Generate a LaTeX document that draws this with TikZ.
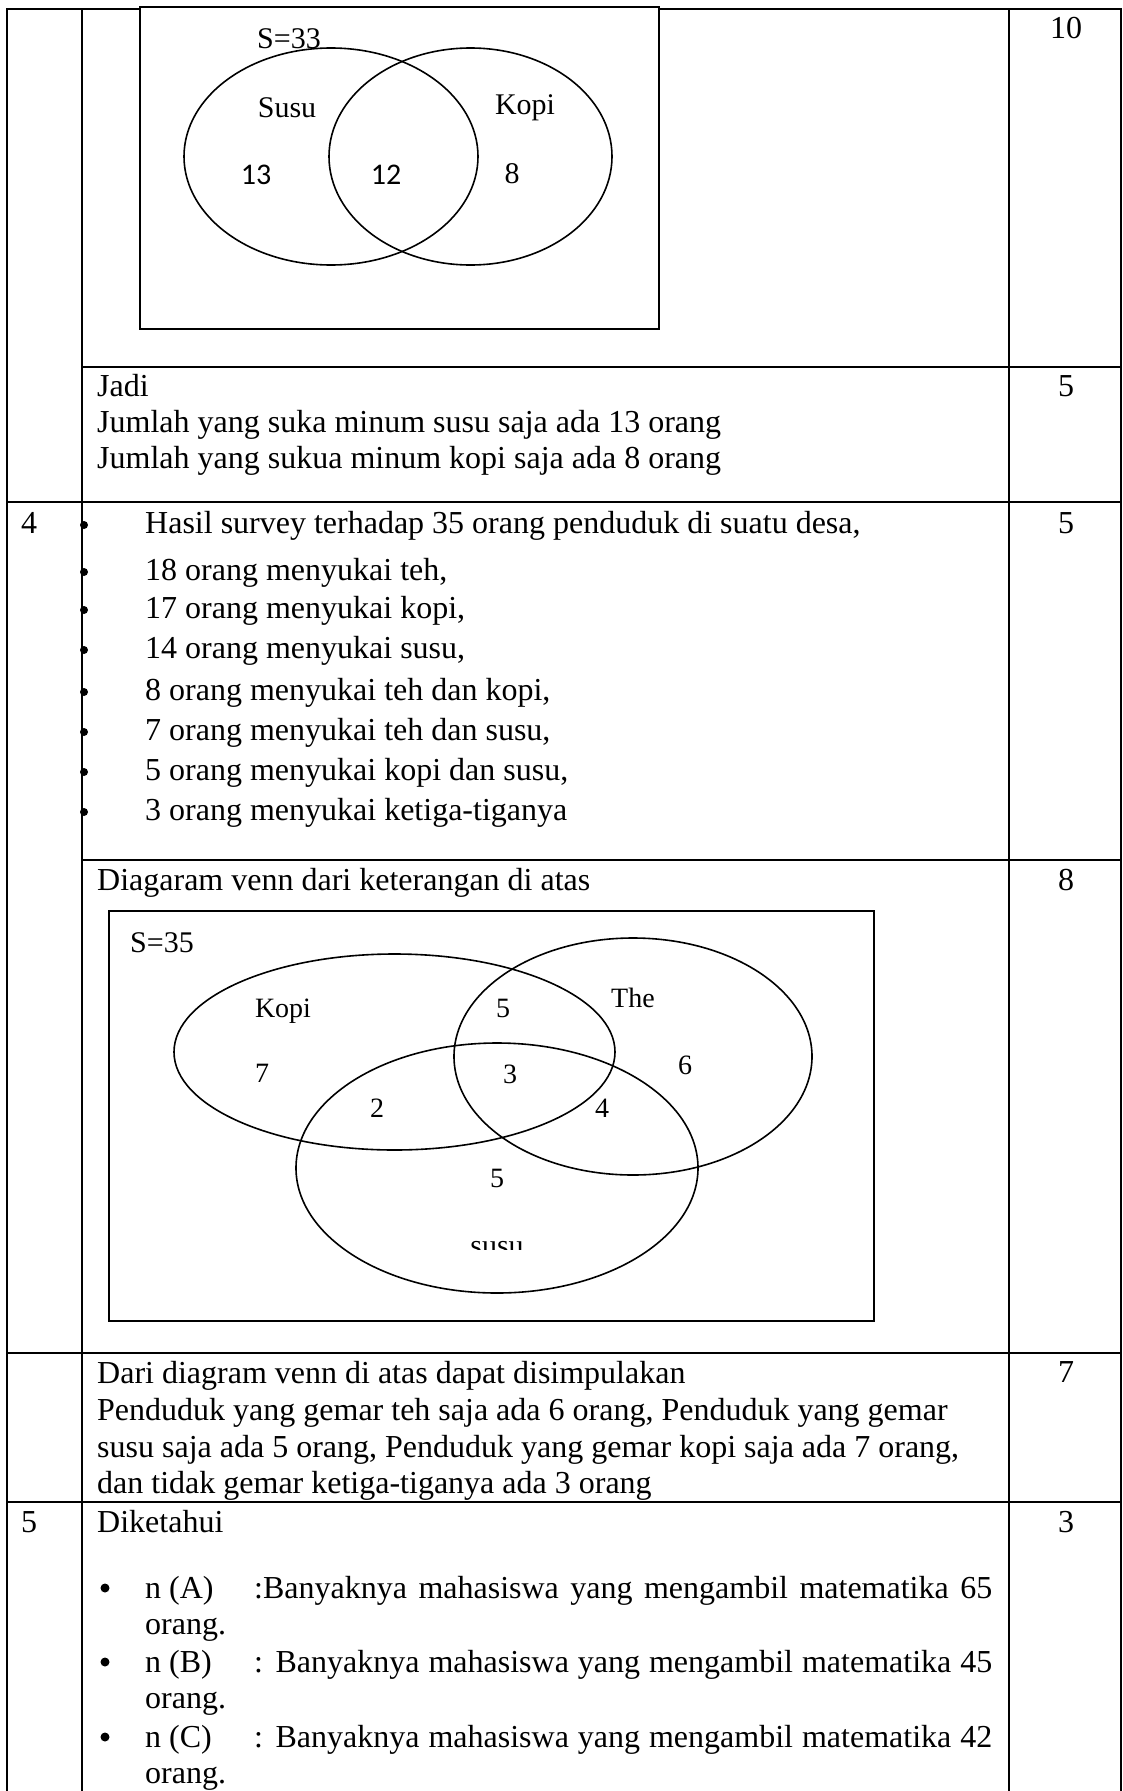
\documentclass[tikz,border=0pt]{standalone}
\usepackage{fontspec}
\setmainfont{Liberation Serif}
\newfontfamily\calibri{Carlito}
\usepackage{tikz}
\usetikzlibrary{positioning}

\begin{document}
\begin{tikzpicture}[
    x=1pt, y=-1pt,
    grid line/.style={line width=2.2pt},
    venn box/.style={draw, line width=2pt, fill=white},
    venn set/.style={draw, line width=1.6pt},
    body/.style={anchor=base west, inner sep=0pt, font=\fontsize{32}{38}\selectfont},
    score/.style={anchor=base, inner sep=0pt, font=\fontsize{32}{38}\selectfont},
    lbl/.style={anchor=base, inner sep=0pt, font=\fontsize{30}{36}\selectfont},
    small lbl/.style={anchor=base, inner sep=0pt, font=\fontsize{28}{34}\selectfont},
    sans lbl/.style={anchor=base, inner sep=0pt, font=\calibri\fontsize{30}{36}\selectfont},
    dot/.style={circle, fill, inner sep=0pt, minimum size=#1}
]
\useasboundingbox (0,0) rectangle (1122,1791);
% table grid
\draw[grid line] (7,1791) -- (7,9) -- (1121,9) -- (1121,1791);
\foreach \x in {82,1009} \draw[grid line] (\x,9) -- (\x,1791);
\foreach \y in {502,1353,1502} \draw[grid line] (7,\y) -- (1121,\y);
\foreach \y in {367,860} \draw[grid line] (82,\y) -- (1121,\y);

% first venn diagram
\draw[venn box] (140,7) rectangle (659,329);
\draw[venn set] (331,156.5) ellipse [x radius=147, y radius=108.5];
\draw[venn set] (470.5,156.5) ellipse [x radius=141.5, y radius=108.5];
\node[lbl, anchor=base west] (semestaA) at (257,48) {S=33};
\node[lbl] (susuA) at (287,117) {Susu};
\node[lbl] (kopiA) at (525,114) {Kopi};
\node[sans lbl] (susuSaja) at (256,184) {13};
\node[sans lbl] (irisanA) at (386,184) {12};
\node[lbl] (kopiSaja) at (512,183) {8};
\node[score] (skorA) at (1066,38) {10};

% kesimpulan soal 3
\node[body] (jadi) at (97,396) {Jadi};
\node[body] (jadiA) at (97,432) {Jumlah yang suka minum susu saja ada 13 orang};
\node[body] (jadiB) at (97,468) {Jumlah yang sukua minum kopi saja ada 8 orang};
\node[score] (skorB) at (1066,396) {5};

% soal 4
\node[score] (no4) at (29,533) {4};
\foreach \b/\t [count=\i] in {533/{Hasil survey terhadap 35 orang penduduk di suatu desa,},
    580/{18 orang menyukai teh,}, 618/{17 orang menyukai kopi,},
    658/{14 orang menyukai susu,}, 700/{8 orang menyukai teh dan kopi,},
    740/{7 orang menyukai teh dan susu,}, 780/{5 orang menyukai kopi dan susu,},
    820/{3 orang menyukai ketiga-tiganya}} {
    \node[dot=8pt] (bul\i) at (84,\b-8) {};
    \node[body] (info\i) at (145,\b) {\t};
}
\node[score] (skorC) at (1066,533) {5};

% second venn diagram
\node[body] (judulB) at (97,890) {Diagaram venn dari keterangan di atas};
\node[score] (skorD) at (1066,890) {8};
\draw[venn box] (109,911) rectangle (874,1321);
\draw[venn set] (394.5,1052) ellipse [x radius=220.5, y radius=98];
\draw[venn set] (633,1056.5) ellipse [x radius=179, y radius=118.5];
\draw[venn set] (497,1168) ellipse [x radius=201, y radius=125];
\node[lbl, anchor=base west] (semestaB) at (130,952) {S=35};
\node[small lbl] (kopiB) at (283,1017) {Kopi};
\node[small lbl] (theB) at (633,1007) {The};
\node[small lbl] (kopiOnly) at (262,1082) {7};
\node[small lbl] (kopiThe) at (503,1017) {5};
\node[small lbl] (semua) at (510,1083) {3};
\node[small lbl] (theOnly) at (685,1074) {6};
\node[small lbl] (kopiSusu) at (377,1117) {2};
\node[small lbl] (theSusu) at (602,1117) {4};
\node[small lbl] (susuOnly) at (497,1187) {5};
\begin{scope}
  \clip (455,1220) rectangle (545,1249);
  \node[lbl] (susuB) at (497,1255) {susu};
\end{scope}

% kesimpulan soal 4
\foreach \b/\t [count=\i] in {1383/{Dari diagram venn di atas dapat disimpulakan},
    1420/{Penduduk yang gemar teh saja ada 6 orang, Penduduk yang gemar},
    1457/{susu saja ada 5 orang, Penduduk yang gemar kopi saja ada 7 orang,},
    1493/{dan tidak gemar ketiga-tiganya ada 3 orang}}
    \node[body] (simpul\i) at (97,\b) {\t};
\node[score] (skorE) at (1066,1382) {7};

% soal 5
\node[score] (no5) at (29,1532) {5};
\node[body] (diketahui) at (97,1532) {Diketahui};
\node[score] (skorF) at (1066,1532) {3};
\foreach \b/\h/\t [count=\i] in {1598/A/{:Banyaknya mahasiswa yang mengambil matematika 65},
    1672/B/{: Banyaknya mahasiswa yang mengambil matematika 45},
    1747/C/{: Banyaknya mahasiswa yang mengambil matematika 42}} {
    \node[dot=9pt] (titik\i) at (105,\b-10) {};
    \node[body] (himp\i) at (145,\b) {n (\h)};
    \node[body] (ket\i) at (254,\b) {\makebox[738pt][s]{\t}};
    \node[body] (orang\i) at (145,\b+36) {orang.};
}
\end{tikzpicture}
\end{document}
